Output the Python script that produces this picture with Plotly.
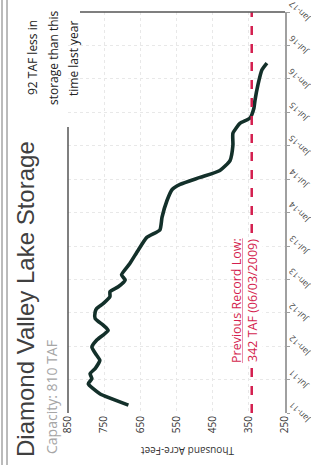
import plotly.graph_objects as go

# ---- data ----
dates = ["2011-02-13", "2011-04-16", "2011-06-10", "2011-07-07", "2011-08-04", "2011-09-01",
         "2011-10-16", "2011-11-13", "2011-12-28", "2012-02-03", "2012-03-28", "2012-04-24",
         "2012-06-01", "2012-07-06", "2012-07-25", "2012-08-22", "2012-09-28", "2012-10-25",
         "2012-11-21", "2012-12-28", "2013-01-25", "2013-03-28", "2013-06-09", "2013-08-18",
         "2013-09-27", "2013-12-06", "2014-03-09", "2014-05-07", "2014-06-04", "2014-07-12",
         "2014-08-19", "2014-10-12", "2015-01-04", "2015-03-10", "2015-05-04", "2015-06-01",
         "2015-07-25", "2015-09-06", "2015-11-28", "2016-02-19", "2016-03-28"]
storage_taf = [683, 762, 794, 784, 789, 775,
               762, 771, 784, 771, 739, 752,
               775, 775, 771, 752, 734, 734,
               711, 692, 702, 679, 656, 632,
               596, 590, 576, 562, 540, 485,
               430, 402, 394, 394, 374, 347,
               336, 333, 325, 314, 300]

record_low = 342
value_ticks = [850, 750, 650, 550, 450, 350, 250]
date_ticks = ["2011-01-01", "2011-07-01", "2012-01-01", "2012-07-01", "2013-01-01", "2013-07-01",
              "2014-01-01", "2014-07-01", "2015-01-01", "2015-07-01", "2016-01-01", "2016-07-01",
              "2017-01-01"]
date_labels = ["Jan-11", "Jul-11", "Jan-12", "Jul-12", "Jan-13", "Jul-13", "Jan-14", "Jul-14",
               "Jan-15", "Jul-15", "Jan-16", "Jul-16", "Jan-17"]
date_range = ["2011-01-01", "2017-01-01"]

title = "Diamond Valley Lake Storage"
capacity = "Capacity: 810 TAF"
note_lines = ["92 TAF less in", "storage than this", "time last year"]
low_line1 = "<u>Previous Record Low:</u>"
low_line2 = "342 TAF (06/03/2009)"
axis_title = "Thousand Acre-Feet"

W, H = 311, 465
L, R, T, B = 68, 26, 12, 52
pw, ph = W - L - R, H - T - B


def px(xp):
    return (xp - L) / pw


def py(yp):
    return (H - B - yp) / ph


fig = go.Figure()
fig.add_trace(go.Scatter(
    x=storage_taf, y=dates, mode="lines",
    line=dict(color="#13302a", width=3.6, shape="spline", smoothing=0.5),
    hoverinfo="skip", showlegend=False, cliponaxis=False))

red = "#d41f4f"
fig.add_shape(type="line", xref="x", yref="paper", x0=record_low, x1=record_low, y0=0, y1=1,
              line=dict(color=red, width=2.5, dash="dash"))
# frame lines
fig.add_shape(type="line", xref="paper", yref="paper", x0=0, x1=0, y0=0, y1=py(127),
              line=dict(color="#555555", width=1.5))
fig.add_shape(type="line", xref="paper", yref="paper", x0=px(80), x1=1, y0=1, y1=1,
              line=dict(color="#555555", width=1.5))
for xx in (2, 7):
    fig.add_shape(type="line", xref="paper", yref="paper", x0=px(xx), x1=px(xx),
                  y0=py(H), y1=py(0), line=dict(color="#777777", width=1))

fig.add_annotation(text=title, textangle=-90, xref="paper", yref="paper",
                   x=px(25), y=py(299), xanchor="center", yanchor="middle", showarrow=False,
                   font=dict(family="Liberation Sans, Arial", size=24, color="#404040"))
fig.add_annotation(text=capacity, textangle=-90, xref="paper", yref="paper",
                   x=px(51), y=py(397), xanchor="center", yanchor="middle", showarrow=False,
                   font=dict(family="Open Sans, Liberation Sans", size=14, color="#a6a6a6"))
for xx, line in zip((33, 54, 74), note_lines):
    fig.add_annotation(text=line, textangle=-90, xref="paper", yref="paper",
                       x=px(xx), y=py(58), xanchor="center", yanchor="middle", showarrow=False,
                       font=dict(family="Open Sans, Liberation Sans", size=12, color="#222222"))
fig.add_annotation(text=low_line1, textangle=-90, xref="paper", yref="paper",
                   x=px(236), y=py(301), xanchor="center", yanchor="middle", showarrow=False,
                   font=dict(family="Open Sans, Liberation Sans", size=12.5, color=red))
fig.add_annotation(text=low_line2, textangle=-90, xref="paper", yref="paper",
                   x=px(252), y=py(301), xanchor="center", yanchor="middle", showarrow=False,
                   bgcolor="white", borderpad=1,
                   font=dict(family="Open Sans, Liberation Sans", size=12.5, color=red))
fig.add_annotation(text=axis_title, textangle=180, xref="paper", yref="paper",
                   x=px(188), y=py(451), xanchor="center", yanchor="middle", showarrow=False,
                   font=dict(family="Open Sans, Liberation Sans", size=10, color="#333333"))
# slanted date tick labels on the right axis
for dv, lab in zip(date_ticks, date_labels):
    fig.add_annotation(text=lab, textangle=-135, xref="paper", yref="y",
                       x=px(299), y=dv, xanchor="center", yanchor="middle", showarrow=False,
                       font=dict(family="Open Sans, Liberation Sans", size=8.5, color="#444444"))

fig.update_layout(
    width=W, height=H, margin=dict(l=L, r=R, t=T, b=B),
    paper_bgcolor="white", plot_bgcolor="white",
    xaxis=dict(range=[850, 250], tickvals=value_ticks, tickangle=-90, automargin=False,
               showgrid=True, gridcolor="#e8e8e8", griddash="dot", zeroline=False,
               showline=False, ticks="",
               tickfont=dict(family="Open Sans, Liberation Sans", size=10, color="#333333")),
    yaxis=dict(type="date", range=date_range, side="right", tickvals=date_ticks,
               showticklabels=False, automargin=False,
               showgrid=True, gridcolor="#e8e8e8", griddash="dot",
               showline=True, linecolor="#a0a0a0", linewidth=1.5, ticks="outside",
               ticklen=3, tickcolor="#a0a0a0"),
)

fig.write_html("out.html", config={"displayModeBar": False},
               post_script="document.body.style.margin='0px';")
